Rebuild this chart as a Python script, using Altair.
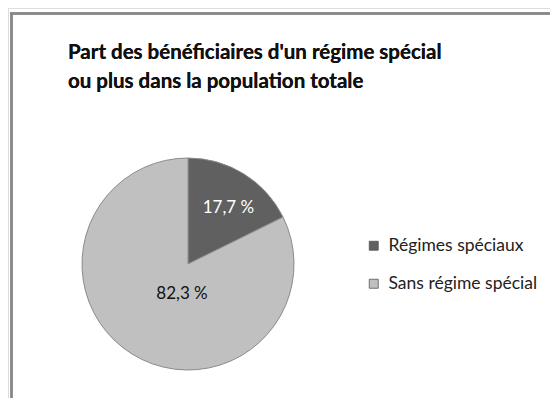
import altair as alt
import pandas as pd

categories = ["Régimes spéciaux", "Sans régime spécial"]
shares = [17.7, 82.3]
labels = ["17,7 %", "82,3 %"]
order = [1, 2]
colors = ["#606060", "#c0c0c0"]

title_lines = "Part des bénéficiaires d'un régime spécial\nou plus dans la population totale"

df = pd.DataFrame({"cat": categories, "share": shares, "label": labels, "ord": order})

FONT = "Lato"

base = alt.Chart(df)

pie = base.mark_arc(outerRadius=106, stroke="#8a8a8a", strokeWidth=1).encode(
    theta=alt.Theta("share:Q", stack=True),
    order=alt.Order("ord:Q"),
    color=alt.Color(
        "cat:N",
        scale=alt.Scale(domain=categories, range=colors),
        sort=categories,
        legend=alt.Legend(
            title=None,
            orient="none",
            legendX=357,
            legendY=229,
            symbolType="square",
            symbolSize=81,
            symbolStrokeColor="#555",
            symbolStrokeWidth=0.8,
            labelFont=FONT,
            labelFontSize=17.5,
            labelColor="#222",
            labelOffset=6,
            rowPadding=19,
            labelLimit=300,
        ),
    ),
    x=alt.value(180),
    y=alt.value(256),
)

lab_dark = base.transform_filter(alt.datum.ord == 1).mark_text(
    radius=69, dx=4, dy=3, font=FONT, fontSize=17, color="white", baseline="middle", align="center"
).encode(
    theta=alt.Theta("share:Q", stack=True),
    order=alt.Order("ord:Q"),
    text="label:N",
    x=alt.value(180),
    y=alt.value(256),
)

lab_light = base.mark_text(
    font=FONT, fontSize=17, color="#111", baseline="middle", align="center"
).transform_filter(alt.datum.ord == 2).encode(
    text="label:N",
    x=alt.value(174),
    y=alt.value(286),
)

title = base.mark_text(
    align="left", baseline="alphabetic", font=FONT, fontSize=20.5, fontWeight="bold",
    color="#111", lineBreak="\n", lineHeight=29,
).encode(x=alt.value(60), y=alt.value(51), text=alt.value(title_lines))

border_top = base.mark_rule(color="#888888", strokeWidth=2.5).encode(
    x=alt.value(2), x2=alt.value(542), y=alt.value(5.5)
)
border_left = base.mark_rule(color="#888888", strokeWidth=2.5).encode(
    x=alt.value(3.5), y=alt.value(4.5), y2=alt.value(390)
)

chart = alt.layer(border_top, border_left, title, pie, lab_dark, lab_light).properties(
    width=542, height=390, padding=0, autosize=alt.AutoSizeParams(type="none")
).configure_view(stroke=None).configure(background="white")

chart.save("out.html", embed_options={"renderer": "svg", "actions": False})
